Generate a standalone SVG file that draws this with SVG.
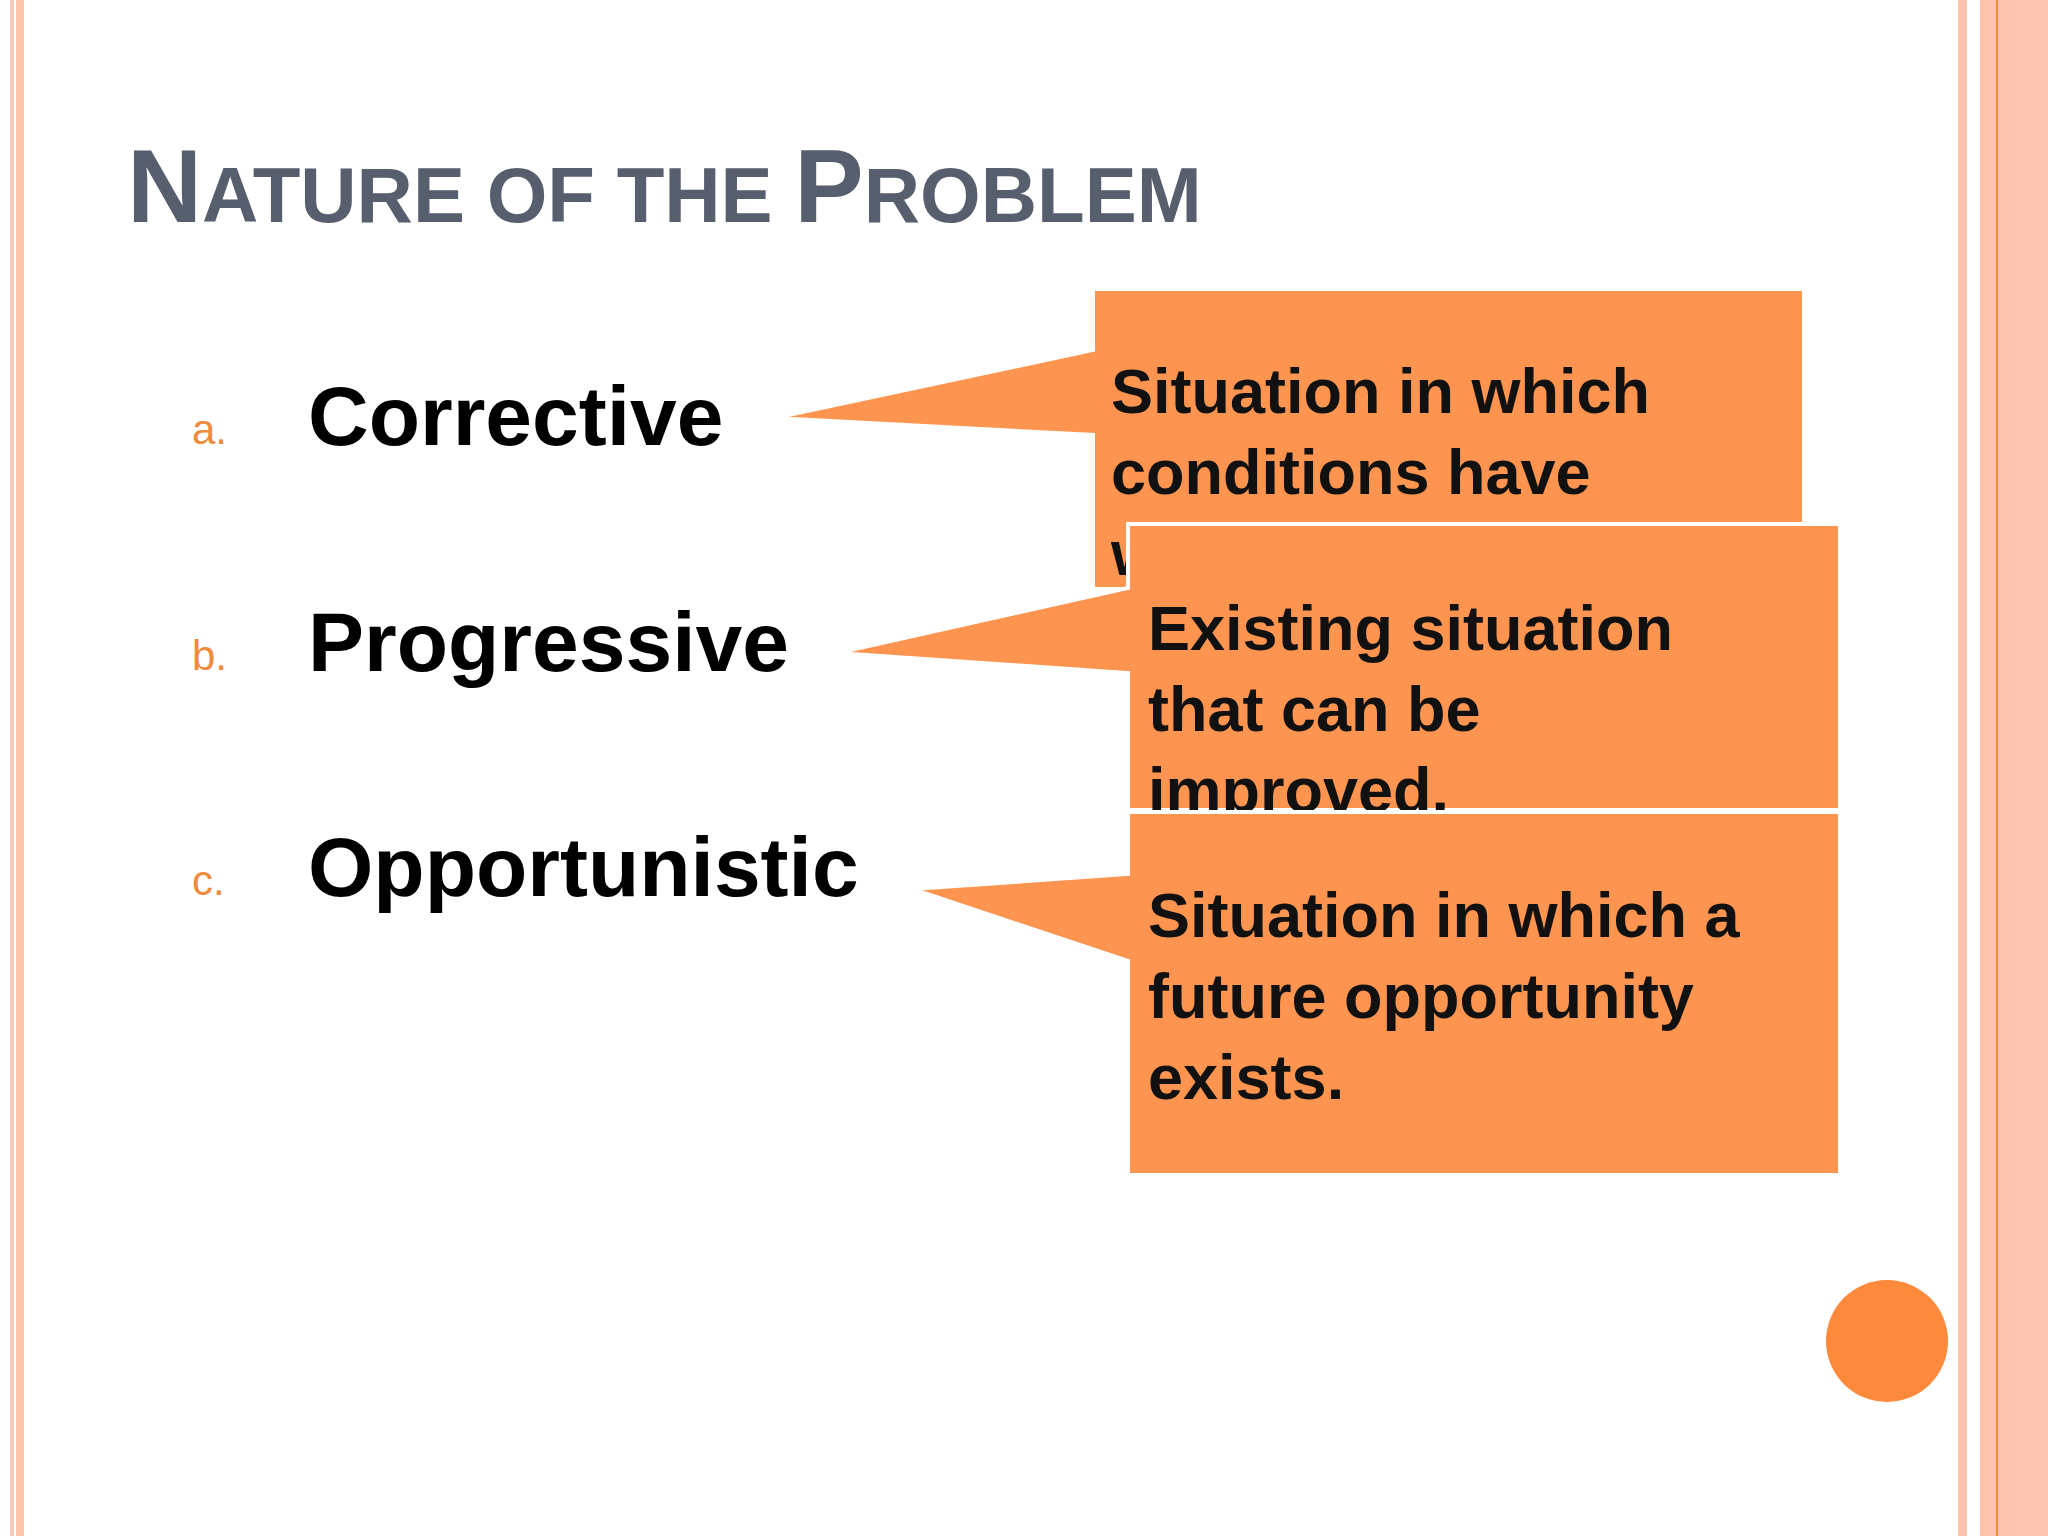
<svg xmlns="http://www.w3.org/2000/svg" width="2048" height="1536" viewBox="0 0 2048 1536">
<defs>
<style>
.co{fill:#fd9550;stroke:#ffffff;stroke-width:4}
.ct{font-family:"Liberation Sans",Arial,sans-serif;font-weight:bold;font-size:63px;fill:#111}
.lb{font-family:"Liberation Sans",Arial,sans-serif;font-weight:bold;font-size:84px;fill:#000}
.num{font-family:"Liberation Sans",Arial,sans-serif;font-size:42px;fill:#f08a3c}
.tt{font-family:"Liberation Sans",Arial,sans-serif;font-weight:bold;fill:#575e6e}
</style>
<clipPath id="c1"><rect x="1093" y="289" width="711" height="300"/></clipPath>
<clipPath id="c2"><rect x="1128" y="524" width="712" height="286"/></clipPath>
</defs>
<rect width="2048" height="1536" fill="#fff"/>
<g id="borders">
<rect x="10" y="0" width="4" height="1536" fill="#f8c8bc"/>
<rect x="16" y="0" width="8" height="1536" fill="#fdc3ac"/>
<rect x="1958" y="0" width="9" height="1536" fill="#fdc3ac"/>
<rect x="1980" y="0" width="35" height="1536" fill="#fdc3ac"/>
<rect x="1996" y="0" width="2" height="1536" fill="#f4873c"/>
<rect x="2015" y="0" width="33" height="1536" fill="#ffc6b2"/>
</g>
<g id="title">
<text class="tt" x="127" y="222"><tspan font-size="104">N</tspan><tspan font-size="78">ATURE OF THE </tspan><tspan font-size="104">P</tspan><tspan font-size="78">ROBLEM</tspan></text>
</g>
<g id="labels">
<text class="num" x="192" y="444">a.</text><text class="lb" x="308" y="445">Corrective</text>
<text class="num" x="192" y="670">b.</text><text class="lb" x="308" y="671">Progressive</text>
<text class="num" x="192" y="895">c.</text><text class="lb" x="308" y="896">Opportunistic</text>
</g>
<g id="callout1">
<path class="co" d="M1093,289 H1804 V589 H1093 V435 L774,418 L1093,350 Z"/>
<text class="ct" clip-path="url(#c1)" x="1111" y="413">Situation in which<tspan x="1111" dy="81">conditions have</tspan><tspan x="1111" dy="81">worsened.</tspan></text>
</g>
<g id="callout2">
<path class="co" d="M1128,524 H1840 V810 H1128 V673 L837,653 L1128,588 Z"/>
<text class="ct" clip-path="url(#c2)" x="1148" y="650">Existing situation<tspan x="1148" dy="81">that can be</tspan><tspan x="1148" dy="81">improved.</tspan></text>
</g>
<g id="callout3">
<path class="co" d="M1128,812 H1840 V1175 H1128 V961 L912,889 L1128,874 Z"/>
<text class="ct" x="1148" y="937">Situation in which a<tspan x="1148" dy="81">future opportunity</tspan><tspan x="1148" dy="81">exists.</tspan></text>
</g>
<circle cx="1887" cy="1341" r="61" fill="#fd8a3c"/>
</svg>
